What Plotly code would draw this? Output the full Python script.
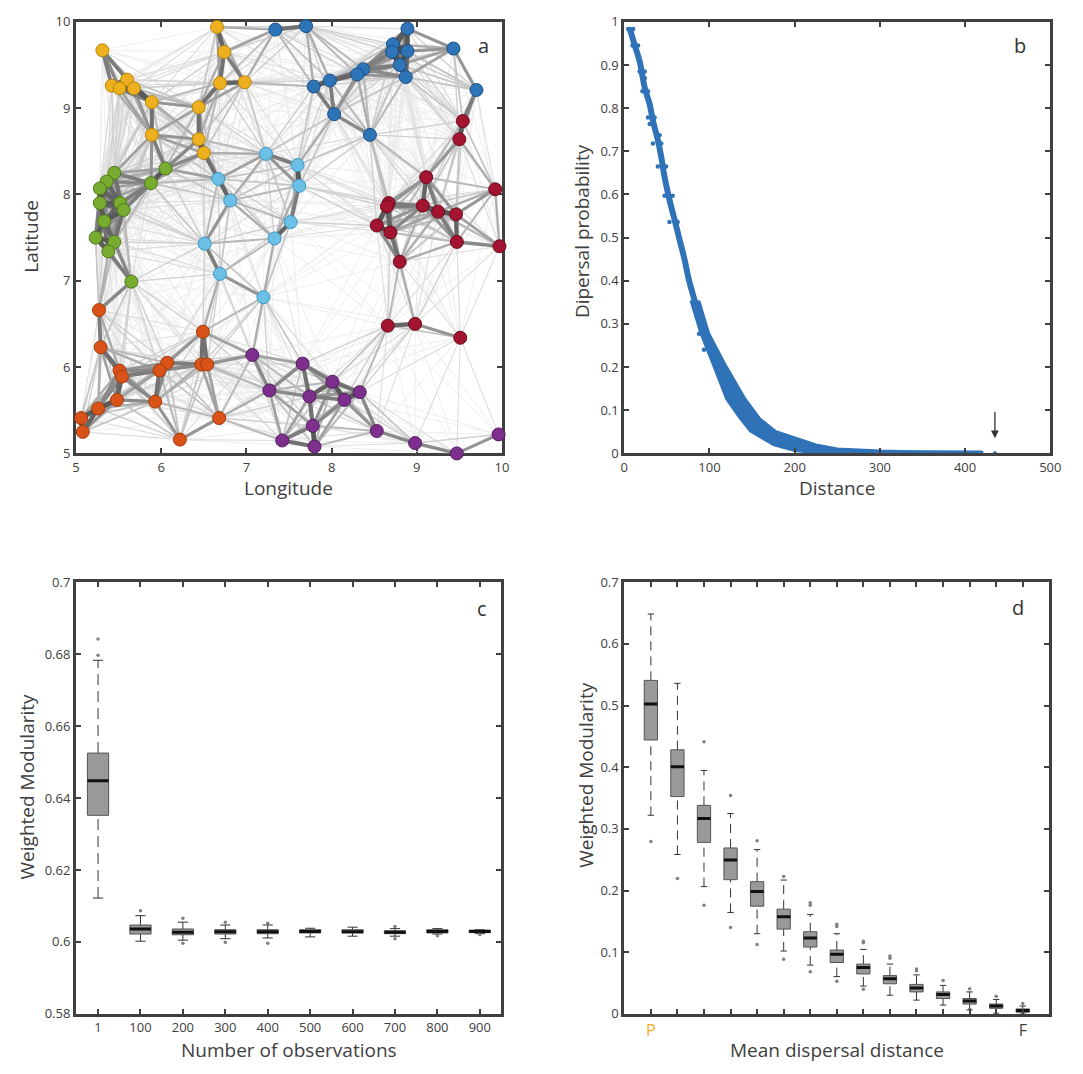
import numpy as np
import plotly.graph_objects as go

# ---------------- Panel a : node positions per community ----------------
yellow_lon = [6.655, 5.31, 6.74, 5.60, 5.42, 5.51, 5.68, 6.69, 6.98, 5.89, 6.44, 5.89, 6.44, 6.50]
yellow_lat = [9.94, 9.67, 9.65, 9.33, 9.26, 9.23, 9.23, 9.29, 9.30, 9.07, 9.01, 8.69, 8.64, 8.48]
blue_lon = [7.34, 7.70, 8.89, 8.72, 8.71, 8.89, 8.80, 8.87, 9.43, 9.70, 8.37, 8.30, 7.98, 7.79, 8.03, 8.45]
blue_lat = [9.91, 9.95, 9.92, 9.74, 9.65, 9.66, 9.50, 9.36, 9.69, 9.21, 9.45, 9.39, 9.32, 9.25, 8.93, 8.69]
red_lon = [9.54, 9.50, 9.11, 9.92, 8.67, 8.65, 9.07, 9.25, 9.46, 8.53, 8.69, 9.47, 9.97, 8.80, 8.66, 8.98, 9.51]
red_lat = [8.85, 8.64, 8.20, 8.06, 7.90, 7.86, 7.87, 7.80, 7.77, 7.64, 7.56, 7.45, 7.40, 7.22, 6.48, 6.50, 6.34]
cyan_lon = [7.23, 7.60, 7.62, 6.67, 6.81, 7.52, 7.33, 6.51, 6.69, 7.20]
cyan_lat = [8.47, 8.34, 8.10, 8.18, 7.93, 7.68, 7.49, 7.43, 7.08, 6.81]
green_lon = [6.05, 5.45, 5.36, 5.28, 5.88, 5.28, 5.52, 5.56, 5.33, 5.23, 5.45, 5.38, 5.65]
green_lat = [8.30, 8.25, 8.15, 8.07, 8.13, 7.90, 7.90, 7.82, 7.69, 7.50, 7.45, 7.34, 6.99]
orange_lon = [5.27, 5.29, 6.49, 6.07, 5.98, 6.47, 6.54, 5.51, 5.54, 5.48, 5.93, 5.26, 5.06, 5.08, 6.68, 6.22]
orange_lat = [6.66, 6.23, 6.41, 6.05, 5.96, 6.03, 6.03, 5.96, 5.89, 5.62, 5.60, 5.52, 5.41, 5.25, 5.41, 5.16]
purple_lon = [7.07, 7.66, 7.27, 7.74, 8.01, 8.15, 8.33, 7.78, 7.42, 7.80, 8.53, 8.98, 9.47, 9.96]
purple_lat = [6.14, 6.04, 5.73, 5.66, 5.83, 5.62, 5.71, 5.32, 5.15, 5.08, 5.26, 5.12, 5.00, 5.22]

# ---------------- Panel b : dispersal kernel ----------------
kernel_d = [6.6, 12.4, 18.2, 24, 29.8, 33.6, 39.4, 43.3, 47.1, 52.9, 58.7, 64.5, 70.3, 76.1,
            83.8, 91.6, 101.2, 112.8, 124.4, 139.9, 159.2, 182.4, 209.4, 240, 279, 318, 420]
kernel_p = [0.983, 0.945, 0.907, 0.847, 0.809, 0.771, 0.726, 0.688, 0.642, 0.589, 0.544, 0.498,
            0.453, 0.400, 0.346, 0.293, 0.240, 0.187, 0.142, 0.096, 0.058, 0.032, 0.014, 0.005,
            0.0015, 0.0, 0.0]
# dense part of the cloud: right/upper and left/lower edges
band_upper_d = [87.7, 99.3, 119.6, 142, 159, 178, 225, 250, 300, 350, 420]
band_upper_p = [0.354, 0.278, 0.202, 0.126, 0.081, 0.051, 0.020, 0.011, 0.006, 0.004, 0.003]
band_lower_d = [78, 89.7, 105, 120, 136, 148, 175, 200, 230, 420]
band_lower_p = [0.354, 0.278, 0.202, 0.126, 0.081, 0.051, 0.020, 0.006, 0.0, 0.0]
# individual points at the edge of the sparse upper part, and strays
dots_d = [4.6, 10.4, 9.7, 16.2, 18, 24, 21.3, 27.8, 27.8, 35.6, 33.6, 43.4, 39.4, 49.1, 47.2,
          56.8, 53, 62.6, 6.6, 24, 29.8, 41.4, 87.7, 93.5, 435]
dots_p = [0.983, 0.983, 0.945, 0.945, 0.885, 0.885, 0.839, 0.839, 0.778, 0.778, 0.718, 0.718,
          0.665, 0.665, 0.597, 0.597, 0.536, 0.536, 0.983, 0.869, 0.763, 0.737, 0.277, 0.240, 0.0]
arrow_d = 435

# ---------------- Panel c : modularity vs number of observations ----------------
obs_labels = ["1", "100", "200", "300", "400", "500", "600", "700", "800", "900"]
c_lo = [0.6122, 0.6002, 0.6005, 0.6009, 0.6011, 0.6014, 0.6016, 0.6016, 0.6022, 0.6023]
c_q1 = [0.6352, 0.6022, 0.6020, 0.6022, 0.6023, 0.6025, 0.6025, 0.6023, 0.6025, 0.6026]
c_med = [0.6448, 0.6036, 0.6027, 0.6028, 0.6028, 0.6029, 0.6028, 0.6027, 0.6029, 0.6029]
c_q3 = [0.6525, 0.6047, 0.6036, 0.6034, 0.6034, 0.6034, 0.6034, 0.6031, 0.6034, 0.6033]
c_hi = [0.6783, 0.6073, 0.6055, 0.6047, 0.6047, 0.6038, 0.6041, 0.6037, 0.6037, 0.6034]
c_out_box = [1, 1, 2, 3, 3, 4, 4, 5, 5, 8, 8, 9, 10]
c_out_val = [0.6797, 0.6842, 0.6087, 0.6066, 0.5996, 0.6055, 0.5999, 0.6052, 0.5996,
             0.6043, 0.6009, 0.6017, 0.6021]

# ---------------- Panel d : modularity vs mean dispersal distance ----------------
d_lo = [0.3221, 0.2585, 0.2064, 0.1645, 0.1300, 0.1019, 0.0791, 0.0605, 0.0451, 0.0302, 0.0223,
        0.0143, 0.0064, 0.0011, 0.0]
d_q1 = [0.4442, 0.3524, 0.2781, 0.2176, 0.1746, 0.1375, 0.1083, 0.0833, 0.0647, 0.0488, 0.0356,
        0.0249, 0.0159, 0.0090, 0.0027]
d_med = [0.5026, 0.4007, 0.3168, 0.2494, 0.1985, 0.1576, 0.1231, 0.0966, 0.0754, 0.0568, 0.0419,
         0.0313, 0.0207, 0.0127, 0.0053]
d_q3 = [0.5408, 0.4283, 0.3381, 0.2691, 0.2144, 0.1698, 0.1332, 0.1035, 0.0807, 0.0621, 0.0478,
        0.0356, 0.0249, 0.0159, 0.0080]
d_hi = [0.6485, 0.5360, 0.3948, 0.3248, 0.2664, 0.2170, 0.1613, 0.1300, 0.1045, 0.0807, 0.0632,
        0.0462, 0.0356, 0.0234, 0.0127]
d_out_box = [1, 2, 3, 3, 4, 4, 5, 5, 6, 6, 7, 7, 7, 8, 8, 8, 9, 9, 9, 10, 10, 11, 11, 12, 13, 13, 14, 15]
d_out_val = [0.2797, 0.2197, 0.4415, 0.1762, 0.354, 0.1401, 0.2807, 0.1125, 0.2229, 0.0886,
             0.1804, 0.1762, 0.0685, 0.1454, 0.1417, 0.0531, 0.1178, 0.1152, 0.0398, 0.0939,
             0.0902, 0.0727, 0.0700, 0.0541, 0.0409, 0.0074, 0.0287, 0.0170]

# ---------------- styling ----------------
FONT = "Open Sans"
AX = "#404040"
BLUE_PTS = "#2f72b8"
DIST_PER_DEG = 115.0
W, H = 1083, 1074

communities = [
    (yellow_lon, yellow_lat, "#EDB120", "#b7850d"),
    (blue_lon, blue_lat, "#2e75b8", "#1c4f86"),
    (red_lon, red_lat, "#A2142F", "#6c0c1e"),
    (cyan_lon, cyan_lat, "#6cc0e5", "#3a98c2"),
    (green_lon, green_lat, "#77AC30", "#4e7a19"),
    (orange_lon, orange_lat, "#D95319", "#a23b0c"),
    (purple_lon, purple_lat, "#7E2F8E", "#551d61"),
]

fig = go.Figure()

# ---- panel a edges: weight of each pair from the dispersal kernel ----
all_lon = np.concatenate([np.array(c[0], float) for c in communities])
all_lat = np.concatenate([np.array(c[1], float) for c in communities])
ii, jj = np.triu_indices(len(all_lon), 1)
dist = np.hypot(all_lon[ii] - all_lon[jj], all_lat[ii] - all_lat[jj])
w = np.interp(dist * DIST_PER_DEG, kernel_d, kernel_p)
keep = w > 0.012
ii, jj, w = ii[keep], jj[keep], w[keep]
bins = np.linspace(0, 1.0001, 16)
for b in range(len(bins) - 1):
    m = (w >= bins[b]) & (w < bins[b + 1])
    if not m.any():
        continue
    wm = 0.5 * (bins[b] + bins[b + 1])
    g = int(240 - 180 * wm)
    xs, ys = [], []
    for a, c in zip(ii[m], jj[m]):
        xs += [all_lon[a], all_lon[c], None]
        ys += [all_lat[a], all_lat[c], None]
    fig.add_trace(go.Scatter(x=xs, y=ys, mode="lines", hoverinfo="skip",
                             line=dict(color=f"rgb({g},{g},{g})", width=0.6 + 5.0 * wm),
                             xaxis="x", yaxis="y"))

for lon, lat, col, edge in communities:
    fig.add_trace(go.Scatter(x=lon, y=lat, mode="markers", cliponaxis=False,
                             marker=dict(size=13, color=col, line=dict(color=edge, width=1)),
                             xaxis="x", yaxis="y"))

# ---- panel b ----
poly_x = list(band_upper_d) + list(band_lower_d)[::-1]
poly_y = list(band_upper_p) + list(band_lower_p)[::-1]
fig.add_trace(go.Scatter(x=poly_x, y=poly_y, mode="lines", fill="toself", fillcolor=BLUE_PTS,
                         line=dict(color=BLUE_PTS, width=2.5), xaxis="x2", yaxis="y2"))
fig.add_trace(go.Scatter(x=kernel_d, y=kernel_p, mode="lines",
                         line=dict(color=BLUE_PTS, width=6, shape="spline"), xaxis="x2", yaxis="y2"))
fig.add_trace(go.Scatter(x=dots_d, y=dots_p, mode="markers",
                         marker=dict(size=4.5, color=BLUE_PTS), xaxis="x2", yaxis="y2"))


# ---- box plot helper ----
def add_boxes(lo, q1, med, q3, hi, out_box, out_val, xa, ya, dash):
    n = len(med)
    pos = np.arange(1, n + 1)
    hw, cw = 0.25, 0.12
    bx, by, wx, wy, cx, cy, mx, my = [], [], [], [], [], [], [], []
    for k in range(n):
        p = pos[k]
        bx += [p - hw, p + hw, p + hw, p - hw, p - hw, None]
        by += [q1[k], q1[k], q3[k], q3[k], q1[k], None]
        wx += [p, p, None, p, p, None]
        wy += [q3[k], hi[k], None, lo[k], q1[k], None]
        cx += [p - cw, p + cw, None, p - cw, p + cw, None]
        cy += [hi[k], hi[k], None, lo[k], lo[k], None]
        mx += [p - hw, p + hw, None]
        my += [med[k], med[k], None]
    fig.add_trace(go.Scatter(x=wx, y=wy, mode="lines", line=dict(color="#333333", width=1, dash=dash),
                             xaxis=xa, yaxis=ya))
    fig.add_trace(go.Scatter(x=cx, y=cy, mode="lines", line=dict(color="#333333", width=1),
                             xaxis=xa, yaxis=ya))
    fig.add_trace(go.Scatter(x=bx, y=by, mode="lines", fill="toself", fillcolor="#999999",
                             line=dict(color="#555555", width=1), xaxis=xa, yaxis=ya))
    fig.add_trace(go.Scatter(x=mx, y=my, mode="lines", line=dict(color="#111111", width=3),
                             xaxis=xa, yaxis=ya))
    fig.add_trace(go.Scatter(x=out_box, y=out_val, mode="markers",
                             marker=dict(size=3.5, color="#808080"), xaxis=xa, yaxis=ya))


add_boxes(c_lo, c_q1, c_med, c_q3, c_hi, c_out_box, c_out_val, "x3", "y3", "11px,6px")
add_boxes(d_lo, d_q1, d_med, d_q3, d_hi, d_out_box, d_out_val, "x4", "y4", "9px,6px")

# ---------------- layout (positions given in page pixels) ----------------


def dom_x(a, b):
    return [a / W, b / W]


def dom_y(top, bottom):
    return [1 - bottom / H, 1 - top / H]


axis_common = dict(showline=True, linecolor=AX, linewidth=3, mirror="ticks", ticks="inside",
                   ticklen=5, tickwidth=2, tickcolor=AX, showgrid=False, zeroline=False,
                   tickfont=dict(family=FONT, size=13, color=AX))

d_tick_text = ['<span style="color:#EDB120">P</span>'] + [""] * 13 + ["F"]

fig.update_layout(
    width=W, height=H, margin=dict(l=0, r=0, t=0, b=0),
    paper_bgcolor="white", plot_bgcolor="white", showlegend=False,
    font=dict(family=FONT, color=AX),
    xaxis=dict(domain=dom_x(73, 505), range=[5, 10], dtick=1, layer="below traces", anchor="y", **axis_common),
    yaxis=dict(domain=dom_y(13, 452), range=[5, 10], dtick=1, layer="below traces", anchor="x", **axis_common),
    xaxis2=dict(domain=dom_x(629, 1061), range=[0, 500], dtick=100, anchor="y2", **axis_common),
    yaxis2=dict(domain=dom_y(13, 452), range=[0, 1], dtick=0.1, anchor="x2", **axis_common),
    xaxis3=dict(domain=dom_x(73, 504), range=[0.48, 10.5], tickvals=list(range(1, 11)),
                ticktext=obs_labels, anchor="y3", **axis_common),
    yaxis3=dict(domain=dom_y(583, 1022), range=[0.58, 0.70], dtick=0.02, anchor="x3", **axis_common),
    xaxis4=dict(domain=dom_x(629, 1060), range=[0, 16], tickvals=list(range(1, 16)),
                ticktext=d_tick_text, anchor="y4",
                **{**axis_common, "tickfont": dict(family=FONT, size=16, color=AX)}),
    yaxis4=dict(domain=dom_y(583, 1022), range=[0, 0.7], dtick=0.1, anchor="x4", **axis_common),
)

title_font = dict(family=FONT, size=19, color=AX)
titles = [
    ("Longitude", 289, 487, 0), ("Latitude", 28, 231, -90),
    ("Distance", 845, 487, 0), ("Dipersal probability", 586, 226, -90),
    ("Number of observations", 289, 1059, 0), ("Weighted Modularity", 23, 791, -90),
    ("Mean dispersal distance", 845, 1059, 0), ("Weighted Modularity", 590, 779, -90),
]
for txt, px, py, ang in titles:
    fig.add_annotation(text=txt, x=px / W, y=1 - py / H, xref="paper", yref="paper",
                       showarrow=False, textangle=ang, font=title_font,
                       xanchor="center", yanchor="middle")

letters = [("a", 486, 37), ("b", 1030, 37), ("c", 485, 610), ("d", 1028, 609)]
for txt, px, py in letters:
    fig.add_annotation(text=txt, x=px / W, y=1 - py / H, xref="paper", yref="paper",
                       showarrow=False, font=dict(family=FONT, size=20, color="#333333"),
                       xanchor="center", yanchor="middle")

fig.add_annotation(x=arrow_d, y=0.035, ax=arrow_d, ay=0.1, xref="x2", yref="y2",
                   axref="x2", ayref="y2", text="", showarrow=True, arrowhead=2,
                   arrowsize=1.2, arrowwidth=1.3, arrowcolor="#333333")

fig.write_html("out.html", config={"displayModeBar": False},
               post_script="document.body.style.margin='0';document.body.style.overflow='hidden';")
